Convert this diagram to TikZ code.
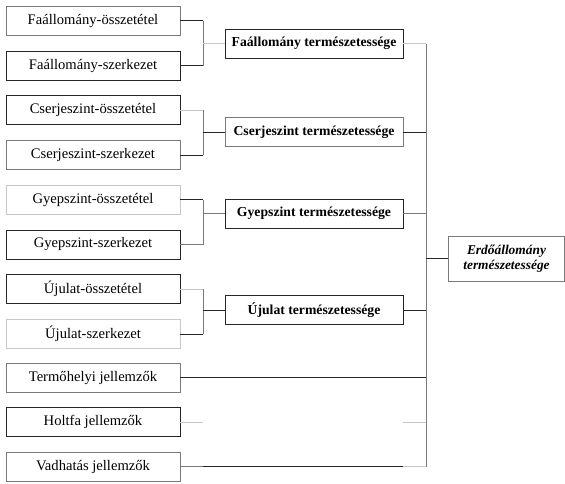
\documentclass[tikz,border=0pt]{standalone}
\usepackage{fontspec}
\setmainfont{Liberation Serif}
\definecolor{dk}{HTML}{262626}
\definecolor{md}{HTML}{7A7A7A}
\definecolor{lt}{HTML}{C8C8C8}
\begin{document}
\begin{tikzpicture}[x=1pt,y=-1pt,
  leaf/.style={draw=#1,line width=0.9pt,minimum width=174pt,minimum height=29pt,inner sep=0pt,
    font=\fontsize{14.6}{16}\selectfont},
  leaf/.default=dk,
  mid/.style={draw=#1,line width=0.9pt,minimum width=178pt,minimum height=29pt,inner sep=0pt,
    font=\fontsize{13.7}{15}\bfseries\selectfont},
  mid/.default=dk,
  wire/.style={line width=0.9pt,draw=#1},
  wire/.default=dk]
\useasboundingbox (0,0) rectangle (565,483);

% input boxes
\node[leaf=md] (fo) at (93,20.5)  {Faállomány-összetétel};
\node[leaf]    (fs) at (93,65.5)  {Faállomány-szerkezet};
\node[leaf]    (co) at (93,110)   {Cserjeszint-összetétel};
\node[leaf=md] (cs) at (93,155)   {Cserjeszint-szerkezet};
\node[leaf=lt] (go) at (93,199.5) {Gyepszint-összetétel};
\node[leaf]    (gs) at (93,244.5) {Gyepszint-szerkezet};
\node[leaf]    (uo) at (93,289)   {Újulat-összetétel};
\node[leaf=lt] (us) at (93,334)   {Újulat-szerkezet};
\node[leaf=md] (th) at (93,377.5) {Termőhelyi jellemzők};
\node[leaf]    (hf) at (93,422)   {Holtfa jellemzők};
\node[leaf=md] (vh) at (93,466.5) {Vadhatás jellemzők};

% intermediate boxes
\node[mid]    (ft) at (314,43.5)  {Faállomány természetessége};
\node[mid=md] (ct) at (314,132)   {Cserjeszint természetessége};
\node[mid]    (gt) at (314,213.5) {Gyepszint természetessége};
\node[mid=dk] (ut) at (314,310)   {Újulat természetessége};

% final box
\node[draw=md,line width=0.9pt,minimum width=116pt,minimum height=45pt,inner sep=0pt,
  align=center,font=\fontsize{13.4}{15}\bfseries\itshape\selectfont]
  (er) at (506.5,258.5) {Erdőállomány\\természetessége};

% bracket joints
\coordinate (jf) at (203,43.5);
\coordinate (jc) at (203,132);
\coordinate (jg) at (203,213.5);
\coordinate (ju) at (203,310);
\coordinate (bt) at (426,43.5);
\coordinate (bb) at (426,466.5);
\coordinate (hl) at (203,422);
\coordinate (hr) at (403,422);
\coordinate (vm) at (203,466.5);
\coordinate (vr) at (403,466.5);

% first-level brackets
\draw[wire] (fo.east) -- (fo.east -| jf);
\draw[wire] (fs.east) -- (fs.east -| jf);
\draw[wire=md] (fo.east -| jf) -- (fs.east -| jf);
\draw[wire=lt] (jf) -- (ft.west);

\draw[wire=lt] (co.east) -- (co.east -| jc);
\draw[wire] (cs.east) -- (cs.east -| jc);
\draw[wire=md] (co.east -| jc) -- (cs.east -| jc);
\draw[wire] (jc) -- (ct.west);

\draw[wire] (go.east) -- (go.east -| jg);
\draw[wire=md] (gs.east) -- (gs.east -| jg);
\draw[wire=md] (go.east -| jg) -- (gs.east -| jg);
\draw[wire=md] (jg) -- (gt.west);

\draw[wire=lt] (uo.east) -- (uo.east -| ju);
\draw[wire] (us.east) -- (us.east -| ju);
\draw[wire=md] (uo.east -| ju) -- (us.east -| ju);
\draw[wire] (ju) -- (ut.west);

% second-level bus
\draw[wire=md] (bt) -- (bb);
\draw[wire=lt] (ft.east) -- (ft.east -| bt);
\draw[wire] (ct.east) -- (ct.east -| bt);
\draw[wire=md] (gt.east) -- (gt.east -| bt);
\draw[wire] (ut.east) -- (ut.east -| bt);
\draw[wire] (th.east) -- (th.east -| bt);
\draw[wire=lt] (hf.east) -- (hl);
\draw[wire=lt] (hr) -- (hr -| bt);
\draw[wire=md] (vh.east) -- (vm);
\draw[wire] (vm) -- (vr);
\draw[wire=lt] (vr) -- (bb);
\draw[wire] (er.west -| bt) -- (er.west);
\end{tikzpicture}
\end{document}
